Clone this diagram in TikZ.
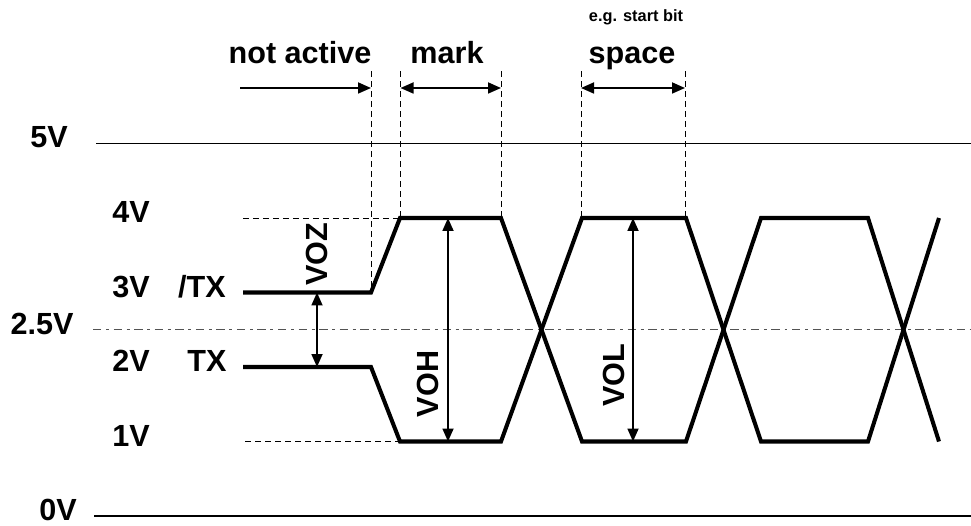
\documentclass[tikz,border=0pt]{standalone}
\usepackage{fontspec}
\setmainfont{Liberation Sans}
\usetikzlibrary{arrows.meta}

\tikzset{
  lbl/.style={font=\fontsize{17.4}{20}\selectfont\bfseries},
  small/.style={font=\fontsize{9.3}{11}\selectfont\bfseries},
  level/.style={line width=0.6pt},
  mid/.style={line width=0.8pt,gray!65!black,dash pattern=on 4.8pt off 2.6pt on 1.7pt off 2.6pt},
  guide/.style={line width=0.55pt,dash pattern=on 3.4pt off 2.3pt},
  wave/.style={line width=2.3pt,line join=miter},
  dim/.style={line width=1pt,{Triangle[length=2.6mm,width=2.2mm]}-{Triangle[length=2.6mm,width=2.2mm]}},
  dimr/.style={line width=1pt,-{Triangle[length=2.6mm,width=2.2mm]}}
}

\begin{document}
\begin{tikzpicture}[x=1cm,y=1.49cm]
\useasboundingbox (0cm,-0.18cm) rectangle (19.42cm,10.32cm);

% voltage levels
\draw[level] (1.92,5) -- (19.42,5);
\draw[level] (1.88,0) -- (19.42,0);
\draw[mid] (1.86,2.5) -- (19.42,2.5);
\draw[guide] (4.86,4) -- (8.0,4);
\draw[guide] (4.9,1) -- (8.0,1);

\node[lbl,yshift=1.2mm] (v5) at (0.98,5) {5V};
\node[lbl,yshift=1.2mm] (v4) at (2.62,4) {4V};
\node[lbl,yshift=1.2mm] (v3) at (2.62,3) {3V};
\node[lbl,yshift=1.2mm] (v25) at (0.84,2.5) {2.5V};
\node[lbl,yshift=1.2mm] (v2) at (2.62,2) {2V};
\node[lbl,yshift=1.2mm] (v1) at (2.62,1) {1V};
\node[lbl,yshift=1.2mm] (v0) at (1.16,0) {0V};
\node[lbl,yshift=1.2mm] (ntx) at (4.04,3) {/TX};
\node[lbl,yshift=1.2mm] (tx) at (4.14,2) {TX};

% timing marks
\foreach \n/\x/\y in {a/7.42/3,b/8.01/4,c/10.02/4,d/11.62/4,e/13.7/4} {
  \coordinate (top\n) at (\x,5.973);
  \coordinate (arr\n) at (\x,5.745);
  \draw[guide] (top\n) -- (\x,\y);
}
\coordinate (arr0) at (4.8,5.745);
\draw[dimr] (arr0) -- (arra);
\draw[dim] (arrb) -- (arrc);
\draw[dim] (arrd) -- (arre);

\node[lbl,anchor=base] (nact) at (6.0,6.07) {not active};
\node[lbl,anchor=base] (mark) at (8.94,6.07) {mark};
\node[lbl,anchor=base] (spc) at (12.64,6.07) {space};
\node[small,anchor=base] (sbit) at (12.72,6.635) {e.g. start bit};

% signals
\draw[wave] (4.86,3) -- (7.42,3) -- (8.0,4) -- (10.02,4) -- (11.64,1) -- (13.72,1)
  -- (15.22,4) -- (17.36,4) -- (18.78,1);
\draw[wave] (4.86,2) -- (7.42,2) -- (8.0,1) -- (10.02,1) -- (11.64,4) -- (13.72,4)
  -- (15.22,1) -- (17.36,1) -- (18.78,4);

% output voltages
\coordinate (oz1) at (6.34,3);
\coordinate (oz2) at (6.34,2);
\coordinate (oh1) at (8.96,4);
\coordinate (oh2) at (8.96,1);
\coordinate (ol1) at (12.66,4);
\coordinate (ol2) at (12.66,1);
\draw[dim] (oz1) -- (oz2);
\draw[dim] (oh1) -- (oh2);
\draw[dim] (ol1) -- (ol2);
\node[lbl,rotate=90] (voz) at (6.33,3.517) {VOZ};
\node[lbl,rotate=90] (voh) at (8.55,1.772) {VOH};
\node[lbl,rotate=90] (vol) at (12.27,1.893) {VOL};
\end{tikzpicture}
\end{document}
